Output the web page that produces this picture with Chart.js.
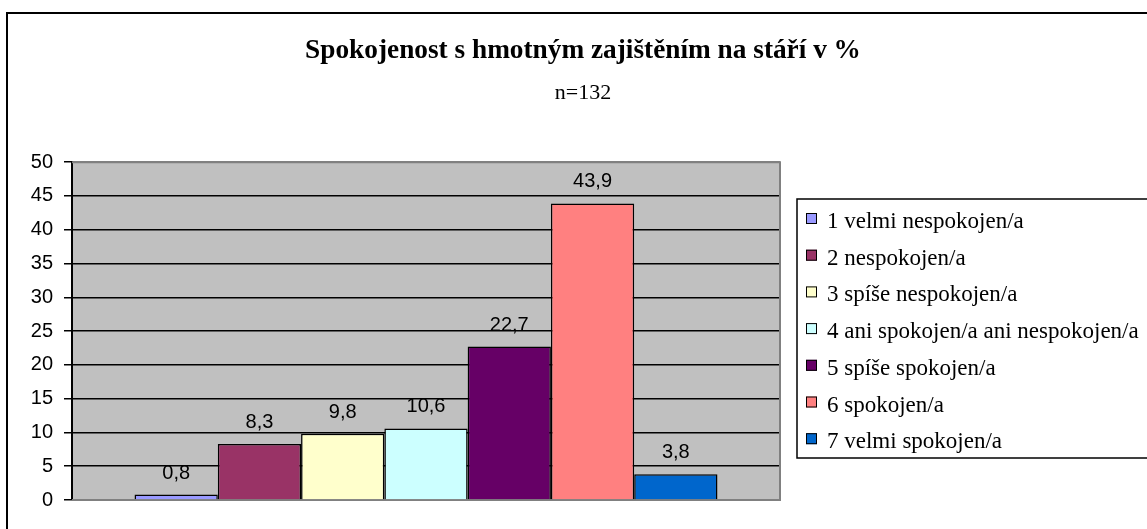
<!DOCTYPE html>
<html>
<head>
<meta charset="utf-8">
<title>Spokojenost s hmotným zajištěním na stáří</title>
<script src="https://cdn.jsdelivr.net/npm/chart.js@4.4.1/dist/chart.umd.min.js"></script>
<style>
    html, body { margin: 0; padding: 0; background: #fff; overflow: hidden; }
    #frame {
        position: absolute; left: 6px; top: 12px;
        width: 2000px; height: 1000px;
        border: 2px solid #000;
    }
    #chart { position: absolute; left: 0; top: 0; }
</style>
</head>
<body>
<div id="frame"></div>
<canvas id="chart" width="1147" height="529"></canvas>
<script>
const categories = [
    '1 velmi nespokojen/a',
    '2 nespokojen/a',
    '3 spíše nespokojen/a',
    '4 ani spokojen/a ani nespokojen/a',
    '5 spíše spokojen/a',
    '6 spokojen/a',
    '7 velmi spokojen/a'
];
const percentValues = [0.8, 8.3, 9.8, 10.6, 22.7, 43.9, 3.8];
const barColors = ['#9999FF', '#993366', '#FFFFCC', '#CCFFFF', '#660066', '#FF8080', '#0066CC'];
const yTicks = [0, 5, 10, 15, 20, 25, 30, 35, 40, 45, 50];

const chartTitle = 'Spokojenost s hmotným zajištěním na stáří v %';
const chartSubtitle = 'n=132';

function formatValue(v) {
    return v.toFixed(1).replace('.', ',');
}

// gray plot area + its border
const plotAreaBg = {
    id: 'plotAreaBg',
    beforeDraw(chart) {
        const { ctx, chartArea: a } = chart;
        ctx.save();
        ctx.fillStyle = '#C0C0C0';
        ctx.fillRect(a.left, a.top, a.right - a.left, a.bottom - a.top);
        ctx.restore();
    },
    beforeDatasetsDraw(chart) {
        const { ctx, chartArea: a } = chart;
        ctx.save();
        ctx.strokeStyle = '#808080';
        ctx.lineWidth = 2;
        ctx.beginPath();
        ctx.moveTo(a.left, a.top);
        ctx.lineTo(a.right, a.top);
        ctx.lineTo(a.right, a.bottom);
        ctx.lineTo(a.left, a.bottom);
        ctx.stroke();
        ctx.restore();
    }
};

// value labels above the bars
const valueLabels = {
    id: 'valueLabels',
    afterDatasetsDraw(chart) {
        const { ctx } = chart;
        ctx.save();
        ctx.font = '20px "Liberation Sans", Arial, sans-serif';
        ctx.fillStyle = '#000';
        ctx.textAlign = 'center';
        ctx.textBaseline = 'alphabetic';
        chart.data.datasets.forEach((ds, i) => {
            const bar = chart.getDatasetMeta(i).data[0];
            ctx.fillText(formatValue(ds.data[0]), bar.x, bar.y - 16);
        });
        ctx.restore();
    }
};

// boxed legend on the right, Excel style
const boxLegend = {
    id: 'boxLegend',
    afterDraw(chart) {
        const { ctx, chartArea: a } = chart;
        const items = chart.data.datasets;
        const rowH = 36.7;
        const boxH = 259;
        const left = a.right + 17;
        const top = Math.round((a.top + a.bottom) / 2 - boxH / 2 - 3);

        ctx.save();
        ctx.strokeStyle = '#000';
        ctx.lineWidth = 1.5;
        ctx.strokeRect(left, top, 600, boxH);

        ctx.font = '23px "Liberation Serif", "Times New Roman", serif';
        ctx.textAlign = 'left';
        ctx.textBaseline = 'alphabetic';
        items.forEach((ds, i) => {
            const base = top + 29 + i * rowH;
            ctx.fillStyle = ds.backgroundColor;
            ctx.fillRect(left + 9, base - 15, 11, 11);
            ctx.strokeStyle = '#000';
            ctx.lineWidth = 1;
            ctx.strokeRect(left + 9.5, base - 14.5, 10, 10);
            ctx.fillStyle = '#000';
            ctx.fillText(ds.label, left + 30, base);
        });
        ctx.restore();
    }
};

const ctx = document.querySelector('#chart').getContext('2d');
new Chart(ctx, {
    type: 'bar',
    data: {
        labels: [''],
        datasets: categories.map((name, i) => ({
            label: name,
            data: [percentValues[i]],
            backgroundColor: barColors[i],
            borderColor: '#000',
            borderWidth: 1.5,
            categoryPercentage: 0.8234,
            barPercentage: 1.0
        }))
    },
    options: {
        responsive: false,
        animation: false,
        devicePixelRatio: 1,
        layout: {
            padding: { left: 19, right: 0, top: 0, bottom: 29 }
        },
        plugins: {
            legend: { display: false },
            tooltip: { enabled: false },
            title: {
                display: true,
                text: chartTitle,
                color: '#000',
                font: { family: '"Liberation Serif", "Times New Roman", serif', size: 27.3, weight: 'bold' },
                padding: { top: 35, bottom: 12 }
            },
            subtitle: {
                display: true,
                text: chartSubtitle,
                color: '#000',
                font: { family: '"Liberation Serif", "Times New Roman", serif', size: 22, weight: 'normal' },
                padding: { top: 0, bottom: 56 }
            }
        },
        scales: {
            x: {
                display: false
            },
            y: {
                min: yTicks[0],
                max: yTicks[yTicks.length - 1],
                afterBuildTicks: (scale) => {
                    scale.ticks = yTicks.map(v => ({ value: v }));
                },
                afterFit: (scale) => { scale.width = 53; },
                ticks: {
                    color: '#000',
                    padding: 11,
                    font: { family: '"Liberation Sans", Arial, sans-serif', size: 20 }
                },
                grid: {
                    color: (c) => (c.tick && (c.tick.value === 0 || c.tick.value === 50)) ? '#808080' : '#000',
                    lineWidth: 1.5,
                    tickLength: 8,
                    tickColor: '#000',
                    tickWidth: 1.5
                },
                border: { display: true, color: '#000', width: 2 }
            },
            // empty axis, only reserves room for the legend box
            yRoom: {
                type: 'linear',
                position: 'right',
                display: true,
                afterFit: (scale) => { scale.width = 367; },
                ticks: { display: false },
                grid: { display: false },
                border: { display: false }
            }
        }
    },
    plugins: [plotAreaBg, valueLabels, boxLegend]
});
</script>
</body>
</html>
